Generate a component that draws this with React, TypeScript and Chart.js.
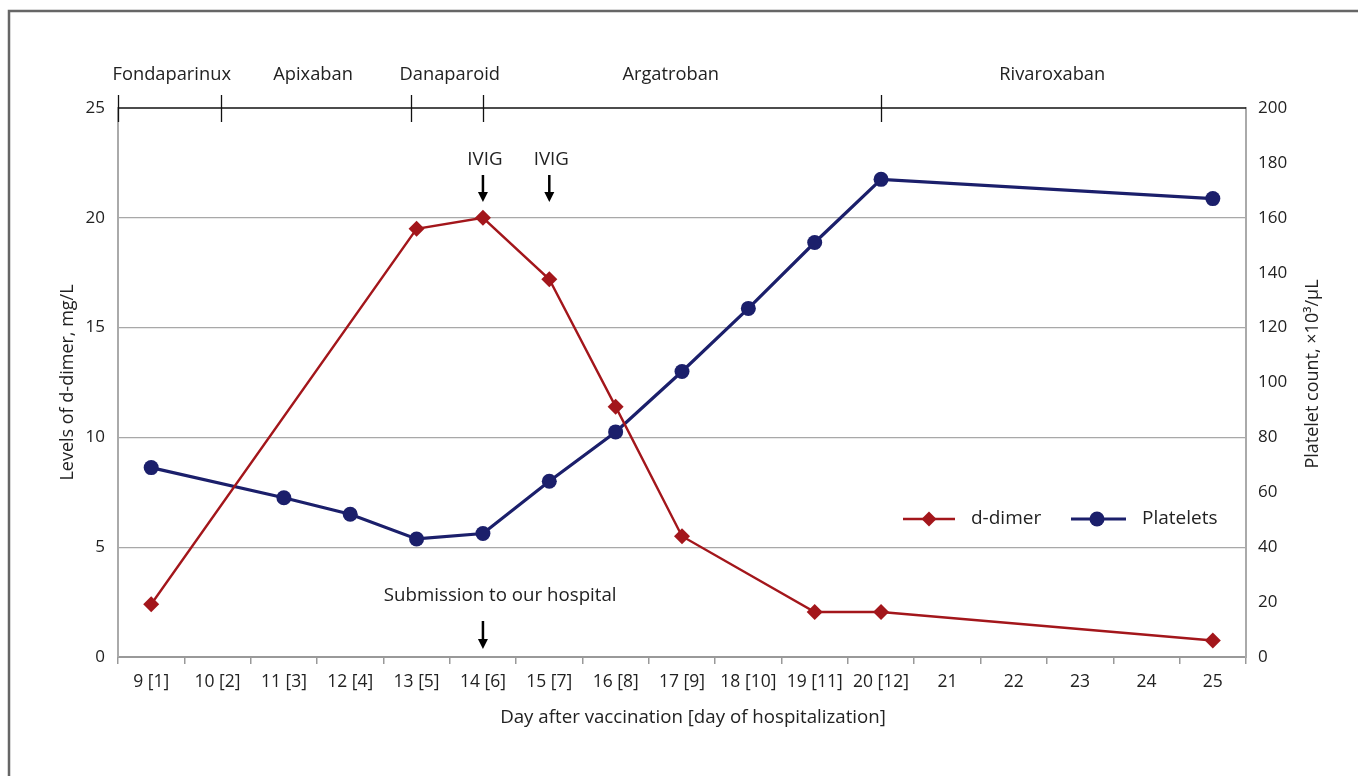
import React, { useEffect, useRef } from "react";
import { Chart, registerables } from "chart.js";

Chart.register(...registerables);

const categories = [
  "9 [1]", "10 [2]", "11 [3]", "12 [4]", "13 [5]", "14 [6]", "15 [7]", "16 [8]",
  "17 [9]", "18 [10]", "19 [11]", "20 [12]", "21", "22", "23", "24", "25",
];
const dDimer = [2.4, null, null, null, 19.5, 20, 17.2, 11.4, 5.5, null, 2.05, 2.05, null, null, null, null, 0.75];
const platelets = [69, null, 58, 52, 43, 45, 64, 82, 104, 127, 151, 174, null, null, null, null, 167];

const leftTicks = [0, 5, 10, 15, 20, 25];
const rightTicks = [0, 20, 40, 60, 80, 100, 120, 140, 160, 180, 200];

// treatment periods (positions in category-index units)
const drugNames = ["Fondaparinux", "Apixaban", "Danaparoid", "Argatroban", "Rivaroxaban"];
const drugLabelPos = [0.31, 2.44, 4.5, 7.83, 13.58];
const drugBoundaries = [-0.5, 1.05, 3.92, 5, 11];

const ivigPos = [5, 6];
const submissionArrowPos = 5;
const submissionTextPos = 5.26;

const RED = "#a3161b";
const NAVY = "#1b1f6b";
const FONT = "'Open Sans', 'Noto Sans', sans-serif";

function drawArrow(ctx: CanvasRenderingContext2D, x: number, y1: number, y2: number) {
  ctx.save();
  ctx.strokeStyle = "#000";
  ctx.fillStyle = "#000";
  ctx.lineWidth = 2.5;
  ctx.beginPath();
  ctx.moveTo(x, y1);
  ctx.lineTo(x, y2 - 7);
  ctx.stroke();
  ctx.beginPath();
  ctx.moveTo(x - 5, y2 - 10);
  ctx.lineTo(x + 5, y2 - 10);
  ctx.lineTo(x, y2);
  ctx.closePath();
  ctx.fill();
  ctx.restore();
}

const overlayPlugin = {
  id: "overlay",
  afterDraw(chart: any) {
    const ctx: CanvasRenderingContext2D = chart.ctx;
    const xs = chart.scales.x;
    const ca = chart.chartArea;
    const p0 = xs.getPixelForValue(0);
    const step = xs.getPixelForValue(1) - p0;
    const px = (i: number) => p0 + i * step;

    ctx.save();
    // frame
    ctx.strokeStyle = "#666";
    ctx.lineWidth = 2.5;
    ctx.beginPath();
    ctx.moveTo(9, 776);
    ctx.lineTo(9, 11);
    ctx.lineTo(1358, 11);
    ctx.stroke();

    // treatment bracket
    ctx.strokeStyle = "#111";
    ctx.lineWidth = 1.3;
    ctx.beginPath();
    ctx.moveTo(ca.left, ca.top);
    ctx.lineTo(ca.right, ca.top);
    ctx.stroke();
    drugBoundaries.forEach((b) => {
      const x = Math.round(px(b)) + 0.5;
      ctx.beginPath();
      ctx.moveTo(x, ca.top - 13);
      ctx.lineTo(x, ca.top + 14);
      ctx.stroke();
    });

    ctx.fillStyle = "#222";
    ctx.font = `18.3px ${FONT}`;
    ctx.textAlign = "center";
    ctx.textBaseline = "middle";
    drugNames.forEach((n, i) => ctx.fillText(n, px(drugLabelPos[i]), 75));

    // IVIG
    ctx.font = `18.7px ${FONT}`;
    ivigPos.forEach((p) => {
      ctx.fillStyle = "#222";
      ctx.fillText("IVIG", px(p) + 2, 160);
      drawArrow(ctx, px(p), 175, 202);
    });

    // submission
    ctx.fillStyle = "#222";
    ctx.fillText("Submission to our hospital", px(submissionTextPos), 596);
    drawArrow(ctx, px(submissionArrowPos), 621, 649);

    // legend
    const ly = 519;
    ctx.strokeStyle = RED;
    ctx.lineWidth = 2.5;
    ctx.beginPath();
    ctx.moveTo(903, ly);
    ctx.lineTo(955, ly);
    ctx.stroke();
    ctx.fillStyle = RED;
    ctx.beginPath();
    ctx.moveTo(929, ly - 7.5);
    ctx.lineTo(936.5, ly);
    ctx.lineTo(929, ly + 7.5);
    ctx.lineTo(921.5, ly);
    ctx.closePath();
    ctx.fill();
    ctx.strokeStyle = NAVY;
    ctx.lineWidth = 3;
    ctx.beginPath();
    ctx.moveTo(1071, ly);
    ctx.lineTo(1126, ly);
    ctx.stroke();
    ctx.fillStyle = NAVY;
    ctx.beginPath();
    ctx.arc(1097, ly, 7.5, 0, Math.PI * 2);
    ctx.fill();
    ctx.fillStyle = "#222";
    ctx.textAlign = "left";
    ctx.font = `19px ${FONT}`;
    ctx.fillText("d-dimer", 971, ly);
    ctx.fillText("Platelets", 1142, ly);

    // axis titles
    ctx.textAlign = "center";
    ctx.font = `18.7px ${FONT}`;
    ctx.fillText("Day after vaccination [day of hospitalization]", 693, 718);
    ctx.font = `18px ${FONT}`;
    ctx.save();
    ctx.translate(68, (ca.top + ca.bottom) / 2);
    ctx.rotate(-Math.PI / 2);
    ctx.fillText("Levels of d-dimer, mg/L", 0, 0);
    ctx.restore();
    ctx.save();
    ctx.translate(1313, 374);
    ctx.rotate(-Math.PI / 2);
    ctx.fillText("Platelet count, \u00d710\u00b3/\u03bcL", 0, 0);
    ctx.restore();

    ctx.restore();
  },
};

export default function App() {
  const ref = useRef<HTMLCanvasElement | null>(null);

  useEffect(() => {
    if (!ref.current) return;
    const tickFont = { family: FONT, size: 17 };
    const chart = new Chart(ref.current, {
      type: "line",
      data: {
        labels: categories,
        datasets: [
          {
            label: "d-dimer",
            data: dDimer,
            yAxisID: "y",
            borderColor: RED,
            backgroundColor: RED,
            borderWidth: 2.4,
            pointStyle: "rectRot",
            pointRadius: 8,
            pointBorderWidth: 0,
            spanGaps: true,
            tension: 0,
          },
          {
            label: "Platelets",
            data: platelets,
            yAxisID: "y1",
            borderColor: NAVY,
            backgroundColor: NAVY,
            borderWidth: 3.2,
            pointStyle: "circle",
            pointRadius: 7.5,
            pointBorderWidth: 0,
            spanGaps: true,
            tension: 0,
          },
        ],
      },
      options: {
        responsive: false,
        animation: false,
        devicePixelRatio: 1,
        layout: { padding: { top: 108, left: 0, right: 0, bottom: 0 } },
        plugins: { legend: { display: false }, tooltip: { enabled: false } },
        scales: {
          x: {
            type: "category",
            offset: true,
            grid: { offset: true, drawOnChartArea: false, drawTicks: true, tickLength: 7, color: "#999", lineWidth: 1.5 },
            border: { color: "#999", width: 2 },
            ticks: { font: { family: FONT, size: 17.5 }, color: "#222", padding: 8, maxRotation: 0, autoSkip: false },
            afterFit: (s: any) => { s.height = 119; },
          },
          y: {
            position: "left",
            min: 0,
            max: 25,
            afterBuildTicks: (s: any) => { s.ticks = leftTicks.map((v) => ({ value: v })); },
            grid: {
              drawTicks: false,
              lineWidth: 1.3,
              color: (c: any) => (c.tick && (c.tick.value === 0 || c.tick.value === 25) ? "rgba(0,0,0,0)" : "#a8a8a8"),
            },
            border: { color: "#aaa", width: 2 },
            ticks: { font: tickFont, color: "#222", padding: 13 },
            afterFit: (s: any) => { s.width = 118; },
          },
          y1: {
            position: "right",
            min: 0,
            max: 200,
            afterBuildTicks: (s: any) => { s.ticks = rightTicks.map((v) => ({ value: v })); },
            grid: { drawOnChartArea: false, drawTicks: false },
            border: { color: "#aaa", width: 2 },
            ticks: { font: tickFont, color: "#222", padding: 12 },
            afterFit: (s: any) => { s.width = 112; },
          },
        },
      },
      plugins: [overlayPlugin],
    });
    return () => chart.destroy();
  }, []);

  return (
    <div style={{ position: "absolute", left: 0, top: 0, width: 1358, height: 776, background: "#fff" }}>
      <canvas ref={ref} width={1358} height={776} style={{ display: "block", width: 1358, height: 776 }} />
    </div>
  );
}
